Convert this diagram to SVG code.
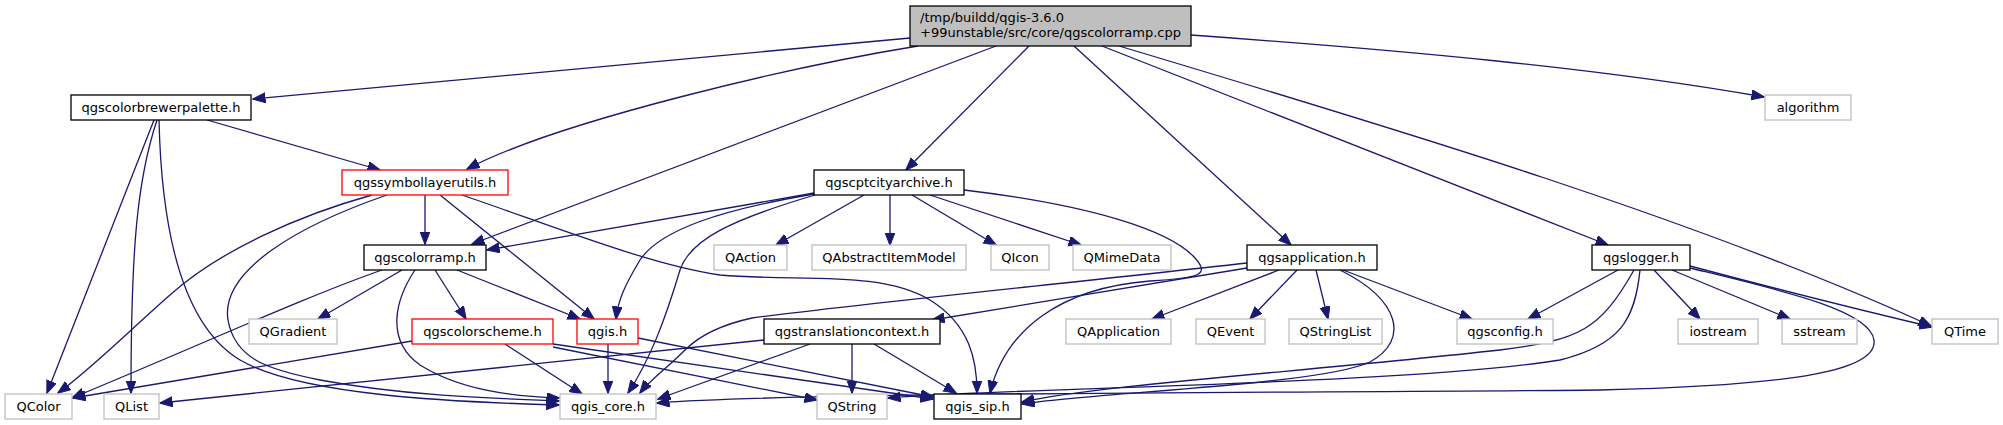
<svg xmlns="http://www.w3.org/2000/svg" width="2003" height="425" viewBox="0 0 2003 425">
<style>
.n rect{fill:#fff;stroke:#000;stroke-width:1.3}
.n.ext rect{stroke:#bfbfbf}
.n.red rect{stroke:#ff0000}
.n.root rect{fill:#bfbfbf}
text{font-family:"DejaVu Sans",sans-serif;font-size:13px;text-anchor:middle;fill:#000}
.root text{text-anchor:start}
#edges path{fill:none;stroke:#191970;stroke-width:1.3;marker-end:url(#a)}
</style>
<defs>
<marker id="a" markerWidth="14" markerHeight="11" refX="12.5" refY="5" orient="auto" markerUnits="userSpaceOnUse">
<path d="M0,0 L13,5 L0,10 z" fill="#191970" stroke="#191970" stroke-width="1"/>
</marker>
</defs>
<rect width="2003" height="425" fill="#fff"/>
<g id="edges">
<path d="M910,38 L253,99"/>
<path d="M918,46 C800,65 560,120 467,169"/>
<path d="M996,46 L472,244"/>
<path d="M1029,46 L906,170"/>
<path d="M1074,46 L1291,245"/>
<path d="M1102,46 L1608,245"/>
<path d="M1119,46 C1400,130 1700,220 1931,326"/>
<path d="M1191,35 C1400,50 1600,68 1764,97"/>
<path d="M207,120 L380,170"/>
<path d="M154,120 L47,393"/>
<path d="M157,120 C137,180 131,250 131,393"/>
<path d="M159,120 C162,250 190,330 240,360 C300,395 450,402 559,405"/>
<path d="M425,195 L425,244"/>
<path d="M372,195 C300,215 220,250 170,295 C130,330 90,370 58,393"/>
<path d="M387,195 C300,225 220,270 228,320 C235,360 270,370 320,380 C400,395 480,398 559,401"/>
<path d="M440,195 L594,319"/>
<path d="M462,195 C550,225 650,265 720,275 C800,282 880,270 930,300 C970,325 977,360 977,393"/>
<path d="M402,270 L318,319"/>
<path d="M382,270 C310,295 200,345 72,398"/>
<path d="M415,270 C395,300 385,340 420,365 C460,390 510,396 559,398"/>
<path d="M435,270 L466,319"/>
<path d="M457,270 L580,319"/>
<path d="M412,341 L73,398"/>
<path d="M505,344 L582,394"/>
<path d="M553,347 L817,400"/>
<path d="M553,344 L933,399"/>
<path d="M608,344 L608,393"/>
<path d="M638,338 L933,397"/>
<path d="M814,193 L487,250"/>
<path d="M814,194 C720,210 660,230 640,260 C625,285 618,300 616,319"/>
<path d="M815,195 C730,220 690,240 680,270 C665,320 650,360 628,393"/>
<path d="M864,195 L776,245"/>
<path d="M890,195 L890,245"/>
<path d="M912,195 L996,245"/>
<path d="M930,195 L1081,245"/>
<path d="M964,190 C1090,205 1170,230 1195,258 C1210,275 1200,278 1150,281 C1060,288 1005,330 990,393"/>
<path d="M1247,268 C1150,285 1050,300 932,320"/>
<path d="M1247,263 C1050,285 850,305 752,318 C720,325 700,335 685,350 C665,370 650,380 640,393"/>
<path d="M1279,270 L1152,319"/>
<path d="M1297,270 L1250,319"/>
<path d="M1316,270 L1328,319"/>
<path d="M1343,270 L1472,319"/>
<path d="M1340,270 C1400,300 1410,340 1370,362 C1320,385 1100,392 1022,404"/>
<path d="M1618,270 L1528,319"/>
<path d="M1634,270 C1600,330 1580,340 1500,350 C1300,372 1100,385 1022,402"/>
<path d="M1640,270 C1635,320 1620,345 1560,360 C1400,385 1000,388 888,398"/>
<path d="M1690,268 C1780,290 1870,310 1874,340 C1878,370 1800,385 1600,390 C1300,393 800,392 657,403"/>
<path d="M1654,270 L1700,319"/>
<path d="M1672,270 L1790,319"/>
<path d="M1690,266 C1780,290 1860,310 1932,327"/>
<path d="M764,340 L160,403"/>
<path d="M852,344 L852,393"/>
<path d="M810,344 L658,399"/>
<path d="M874,344 L956,393"/>
</g>
<g id="root" class="n root"><rect x="910" y="6" width="281" height="40"/><text x="920" y="21.5">/tmp/buildd/qgis-3.6.0</text><text x="920" y="36.5">+99unstable/src/core/qgscolorramp.cpp</text></g>
<g id="qgscolorbrewerpalette" class="n"><rect x="71" y="95" width="180" height="25"/><text x="161" y="112">qgscolorbrewerpalette.h</text></g>
<g id="algorithm" class="n ext"><rect x="1765" y="95" width="86" height="25"/><text x="1808" y="112">algorithm</text></g>
<g id="qgssymbollayerutils" class="n red"><rect x="342" y="170" width="166" height="25"/><text x="425" y="187">qgssymbollayerutils.h</text></g>
<g id="qgscptcityarchive" class="n"><rect x="814" y="170" width="150" height="25"/><text x="889" y="187">qgscptcityarchive.h</text></g>
<g id="qgscolorramp" class="n"><rect x="364" y="245" width="122" height="25"/><text x="425" y="262">qgscolorramp.h</text></g>
<g id="QAction" class="n ext"><rect x="714" y="245" width="73" height="25"/><text x="750.5" y="262">QAction</text></g>
<g id="QAbstractItemModel" class="n ext"><rect x="812" y="245" width="154" height="25"/><text x="889" y="262">QAbstractItemModel</text></g>
<g id="QIcon" class="n ext"><rect x="991" y="245" width="58" height="25"/><text x="1020" y="262">QIcon</text></g>
<g id="QMimeData" class="n ext"><rect x="1073" y="245" width="98" height="25"/><text x="1122" y="262">QMimeData</text></g>
<g id="qgsapplication" class="n"><rect x="1247" y="245" width="130" height="25"/><text x="1312" y="262">qgsapplication.h</text></g>
<g id="qgslogger" class="n"><rect x="1592" y="245" width="98" height="25"/><text x="1641" y="262">qgslogger.h</text></g>
<g id="QGradient" class="n ext"><rect x="249" y="319" width="88" height="25"/><text x="293" y="336">QGradient</text></g>
<g id="qgscolorscheme" class="n red"><rect x="412" y="319" width="141" height="25"/><text x="482.5" y="336">qgscolorscheme.h</text></g>
<g id="qgis" class="n red"><rect x="577" y="319" width="61" height="25"/><text x="607.5" y="336">qgis.h</text></g>
<g id="qgstranslationcontext" class="n"><rect x="764" y="319" width="176" height="25"/><text x="852" y="336">qgstranslationcontext.h</text></g>
<g id="QApplication" class="n ext"><rect x="1066" y="319" width="105" height="25"/><text x="1118.5" y="336">QApplication</text></g>
<g id="QEvent" class="n ext"><rect x="1196" y="319" width="69" height="25"/><text x="1230.5" y="336">QEvent</text></g>
<g id="QStringList" class="n ext"><rect x="1289" y="319" width="93" height="25"/><text x="1335.5" y="336">QStringList</text></g>
<g id="qgsconfig" class="n ext"><rect x="1457" y="319" width="96" height="25"/><text x="1505" y="336">qgsconfig.h</text></g>
<g id="iostream" class="n ext"><rect x="1678" y="319" width="80" height="25"/><text x="1718" y="336">iostream</text></g>
<g id="sstream" class="n ext"><rect x="1782" y="319" width="75" height="25"/><text x="1819.5" y="336">sstream</text></g>
<g id="QTime" class="n ext"><rect x="1932" y="319" width="66" height="25"/><text x="1965" y="336">QTime</text></g>
<g id="QColor" class="n ext"><rect x="5" y="394" width="67" height="25"/><text x="38.5" y="411">QColor</text></g>
<g id="QList" class="n ext"><rect x="104" y="394" width="55" height="25"/><text x="131.5" y="411">QList</text></g>
<g id="qgis_core" class="n ext"><rect x="560" y="394" width="96" height="25"/><text x="608" y="411">qgis_core.h</text></g>
<g id="QString" class="n ext"><rect x="817" y="394" width="70" height="25"/><text x="852" y="411">QString</text></g>
<g id="qgis_sip" class="n"><rect x="934" y="394" width="87" height="25"/><text x="977.5" y="411">qgis_sip.h</text></g>
</svg>
